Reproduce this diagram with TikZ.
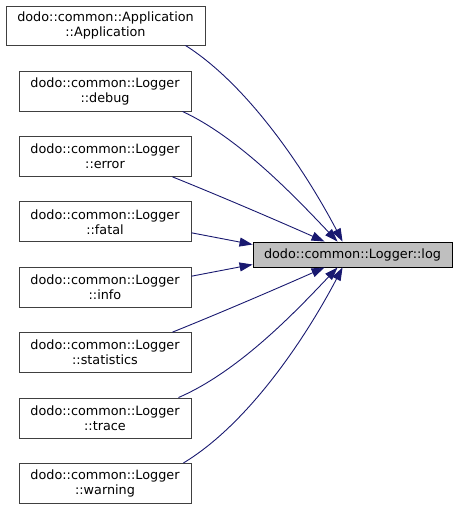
\documentclass[tikz,border=0pt]{standalone}
\usepackage{fontspec}
\setmainfont{DejaVu Sans}
\usetikzlibrary{arrows.meta,calc}
\definecolor{edgeblue}{HTML}{191970}
\definecolor{boxgray}{HTML}{404040}
\tikzset{
  fn/.style={draw=boxgray, line width=0.9pt, fill=white, minimum width=172pt, minimum height=40pt,
    inner sep=0pt, align=center, font=\fontsize{12.8}{15}\selectfont},
  target/.style={draw=black, line width=0.9pt, fill=gray!50, minimum width=199pt, minimum height=25pt,
    inner sep=0pt, font=\fontsize{12.8}{15}\selectfont},
  call/.style={draw=edgeblue, line width=0.9pt, -{Triangle[length=13pt,width=9pt]}},
}
\begin{document}
\begin{tikzpicture}[x=1pt,y=-1pt]
\useasboundingbox (0,0) rectangle (457,509);
\node[fn, minimum width=199pt, minimum height=39pt] (app) at (105.5,25.5) {dodo::common::Application\\::Application};
\node[fn] (debug) at (105,91) {dodo::common::Logger\\::debug};
\node[fn] (error) at (105,156.4) {dodo::common::Logger\\::error};
\node[fn] (fatal) at (105,221.8) {dodo::common::Logger\\::fatal};
\node[fn] (info) at (105,287.2) {dodo::common::Logger\\::info};
\node[fn] (stats) at (105,352.6) {dodo::common::Logger\\::statistics};
\node[fn] (trace) at (105,418) {dodo::common::Logger\\::trace};
\node[fn] (warn) at (105,483.4) {dodo::common::Logger\\::warning};
\node[target] (log) at (352.5,254.5) {dodo::common::Logger::log};

\draw[call] ($(app.south east)+(-20,0)$) .. controls (248,85) and (305,170) .. ($(log.north west)+(90,0)$);
\draw[call] ($(debug.south east)+(-9,0)$) .. controls (240,138) and (298,200) .. ($(log.north west)+(85,0)$);
\draw[call] ($(error.south east)+(-19,0)$) .. controls (225,198) and (285,224) .. ($(log.north west)+(72,0)$);
\draw[call] ($(fatal.east)+(0,11)$) -- ($(log.west)+(0,-10)$);
\draw[call] ($(info.east)+(0,-11)$) -- ($(log.west)+(0,10)$);
\draw[call] ($(stats.north east)+(-19,0)$) .. controls (225,311) and (285,285) .. ($(log.south west)+(72,0)$);
\draw[call] ($(trace.north east)+(-13,0)$) .. controls (240,371) and (298,309) .. ($(log.south west)+(85,0)$);
\draw[call] ($(warn.north east)+(-8,0)$) .. controls (248,424) and (305,339) .. ($(log.south west)+(90,0)$);
\end{tikzpicture}
\end{document}
